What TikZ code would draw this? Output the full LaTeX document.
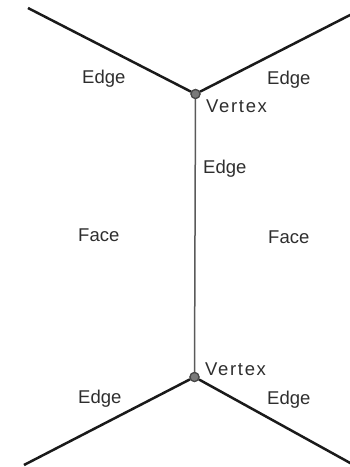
\documentclass[tikz,border=0pt]{standalone}
\usepackage{fontspec}
\setmainfont{Liberation Sans}
\usepackage{xcolor}
\usetikzlibrary{positioning}
\definecolor{edgeblack}{HTML}{1A1A1A}
\definecolor{linegray}{HTML}{5A5A5A}
\definecolor{textgray}{HTML}{2E2E2E}
\definecolor{dotgray}{HTML}{7A7A7A}
\newcommand{\wide}[1]{{\addfontfeatures{LetterSpace=9}#1}}

\begin{document}
\begin{tikzpicture}[
    x=1pt, y=-1pt,
    vertex/.style={circle, draw=edgeblack!80, fill=dotgray, line width=1.2pt,
                   inner sep=0pt, minimum size=9pt},
    thick edge/.style={draw=edgeblack, line width=2.5pt},
    thin edge/.style={draw=linegray, line width=1.5pt},
    label/.style={anchor=base west, inner sep=0pt, text=textgray,
                  font=\fontsize{18.5}{22}\selectfont}
]
\useasboundingbox (0,0) rectangle (349,467);

% free ends of the outer edges
\coordinate (tl) at (28,8);
\coordinate (tr) at (352,14);
\coordinate (bl) at (24,465);
\coordinate (br) at (352,464);

% the two vertices
\node[vertex] (vtop) at (195.5,94) {};
\node[vertex] (vbot) at (194.5,377) {};

\draw[thin edge] (vtop) -- (vbot);
\draw[thick edge] (tl) -- (vtop) -- (tr);
\draw[thick edge] (bl) -- (vbot) -- (br);
\node[vertex] at (vtop) {};
\node[vertex] at (vbot) {};

% labels
\node[label] (etl) at (82,83)  {Edge};
\node[label] (etr) at (267,84) {Edge};
\node[label] (vtl) at (206,112) {\wide{Vertex}};
\node[label] (emid) at (203,173) {Edge};
\node[label] (fl) at (78,241)  {Face};
\node[label] (fr) at (268,243) {Face};
\node[label] (vbl) at (205,375) {\wide{Vertex}};
\node[label] (ebl) at (78,403) {Edge};
\node[label] (ebr) at (267,404) {Edge};
\end{tikzpicture}
\end{document}
